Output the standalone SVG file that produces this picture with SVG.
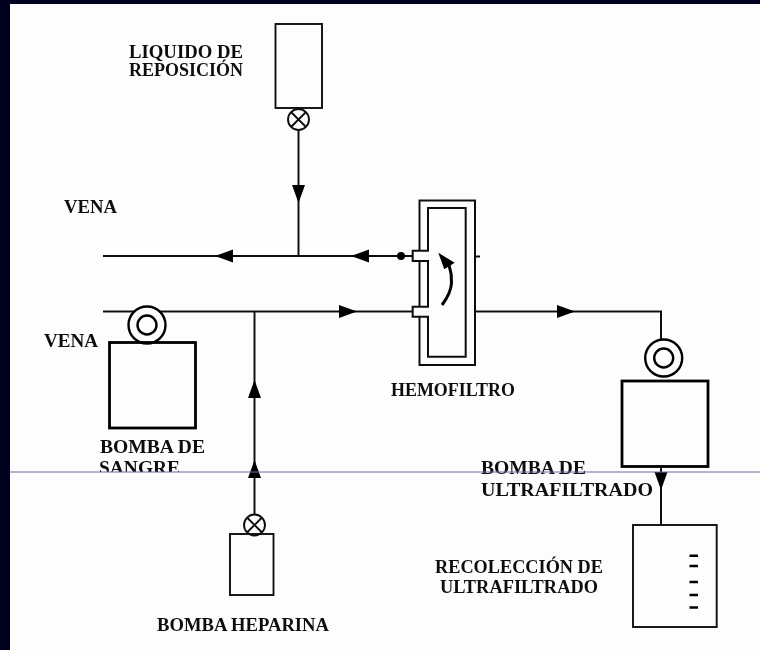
<svg xmlns="http://www.w3.org/2000/svg" width="760" height="650" viewBox="0 0 760 650">
  <defs>
    <marker id="ah" markerUnits="userSpaceOnUse" markerWidth="18" markerHeight="14" refX="18" refY="7" orient="auto">
      <path d="M0 0.5 L18 7 L0 13.5 Z" fill="#000"/>
    </marker>
    <filter id="soft" x="-2%" y="-2%" width="104%" height="104%"><feGaussianBlur stdDeviation="0.45"/></filter>
    <clipPath id="above"><rect x="10" y="4" width="750" height="468"/></clipPath>
  </defs>
  <style>
    .s { fill: none; stroke: #111; stroke-width: 2; }
    .box { fill: none; stroke: #111; stroke-width: 1.9; }
    .pump { fill: #fdfdfd; stroke: #000; stroke-width: 2.8; }
    .ring { fill: none; stroke: #000; stroke-width: 2.4; }
    .t { font-family: "Liberation Serif", "Times New Roman", serif; font-size: 18.5px; font-weight: bold; fill: #111; }
  </style>
  <rect width="760" height="650" fill="#00001f"/>
  <rect x="10" y="4" width="750" height="646" fill="#fdfdfd"/>
  <g filter="url(#soft)">
    <g id="connectors">
      <path class="s" d="M298.5 130 V203" marker-end="url(#ah)"/>
      <path class="s" d="M298.5 203 V256"/>
      <path class="s" d="M413 256 H351" marker-end="url(#ah)"/>
      <path class="s" d="M351 256 H215" marker-end="url(#ah)"/>
      <path class="s" d="M215 256 H103"/>
      <path class="s" d="M103 311.5 H135"/>
      <path class="s" d="M159 311.5 H357" marker-end="url(#ah)"/>
      <path class="s" d="M357 311.5 H413"/>
      <path class="s" d="M254.5 515 V460" marker-end="url(#ah)"/>
      <path class="s" d="M254.5 460 V380" marker-end="url(#ah)"/>
      <path class="s" d="M254.5 380 V311.5"/>
      <path class="s" d="M475 311.5 H575" marker-end="url(#ah)"/>
      <path class="s" d="M575 311.5 H661 V339"/>
      <path class="s" d="M661 467 V490" marker-end="url(#ah)"/>
      <path class="s" d="M661 490 V525"/>
      <path class="s" d="M475 256.5 H480"/>
      <circle cx="401" cy="256" r="4" fill="#000"/>
    </g>
    <g id="liquido-reposicion">
      <rect class="box" x="275.5" y="24" width="46.5" height="84"/>
      <circle class="box" cx="298.5" cy="119.5" r="10.5"/>
      <path class="box" d="M291 112 L306 127 M306 112 L291 127"/>
      <text class="t" x="129" y="57.5" textLength="114" lengthAdjust="spacingAndGlyphs">LIQUIDO DE</text>
      <text class="t" x="129" y="76" textLength="114" lengthAdjust="spacingAndGlyphs">REPOSICIÓN</text>
    </g>
    <g id="vena-superior">
      <text class="t" x="64" y="212.5" textLength="53" lengthAdjust="spacingAndGlyphs">VENA</text>
    </g>
    <g id="vena-inferior">
      <text class="t" x="44" y="347" textLength="54" lengthAdjust="spacingAndGlyphs">VENA</text>
    </g>
    <g id="bomba-sangre">
      <rect class="pump" x="109.5" y="342.5" width="86" height="85.5"/>
      <circle class="ring" cx="147" cy="325" r="18.5"/>
      <circle class="ring" cx="147" cy="325" r="9.5"/>
      <text class="t" x="100" y="453" textLength="105" lengthAdjust="spacingAndGlyphs">BOMBA DE</text>
      <g clip-path="url(#above)"><text class="t" x="99" y="474" textLength="81" lengthAdjust="spacingAndGlyphs">SANGRE</text></g>
    </g>
    <g id="hemofiltro">
      <path class="s" d="M419.5 250.7 V200.5 H475 V365 H419.5 V316.7 M419.5 261 V306.7"/>
      <path class="s" d="M428 250.7 V208 H465.7 V356.7 H428 V316.7 H412.7 V306.7 H428 V261 H412.7 V250.7 Z"/>
      <path d="M442 305 Q451 293 451.5 283 Q452 274 449 265" fill="none" stroke="#000" stroke-width="3"/>
      <path d="M438.3 252.7 L454.7 262.7 L444.3 269.3 Z" fill="#000"/>
      <text class="t" x="391" y="395.5" textLength="124" lengthAdjust="spacingAndGlyphs">HEMOFILTRO</text>
    </g>
    <g id="bomba-ultrafiltrado">
      <rect class="pump" x="622" y="381" width="86" height="85.5"/>
      <circle class="ring" cx="663.7" cy="358" r="18.5"/>
      <circle class="ring" cx="663.7" cy="358" r="9.5"/>
      <text class="t" x="481" y="474" textLength="105" lengthAdjust="spacingAndGlyphs">BOMBA DE</text>
      <text class="t" x="481" y="495.5" textLength="172" lengthAdjust="spacingAndGlyphs">ULTRAFILTRADO</text>
    </g>
    <g id="bomba-heparina">
      <rect class="box" x="230" y="534" width="43.5" height="61"/>
      <circle class="box" cx="254.5" cy="525" r="10.5"/>
      <path class="box" d="M247 517.5 L262 532.5 M262 517.5 L247 532.5"/>
      <text class="t" x="157" y="631" textLength="172" lengthAdjust="spacingAndGlyphs">BOMBA HEPARINA</text>
    </g>
    <g id="recoleccion-ultrafiltrado">
      <rect class="box" x="633" y="525" width="83.7" height="102"/>
      <path d="M689.5 555.7 H698 M689.5 566 H698 M689.5 582 H698 M689.5 595 H698 M689.5 607.5 H698" fill="none" stroke="#000" stroke-width="2.6"/>
      <text class="t" x="435" y="573" textLength="168" lengthAdjust="spacingAndGlyphs">RECOLECCIÓN DE</text>
      <text class="t" x="440" y="592.5" textLength="158" lengthAdjust="spacingAndGlyphs">ULTRAFILTRADO</text>
    </g>
  </g>
  <path d="M10 472 H760" stroke="#6c6ca4" stroke-width="1" fill="none"/>
</svg>
